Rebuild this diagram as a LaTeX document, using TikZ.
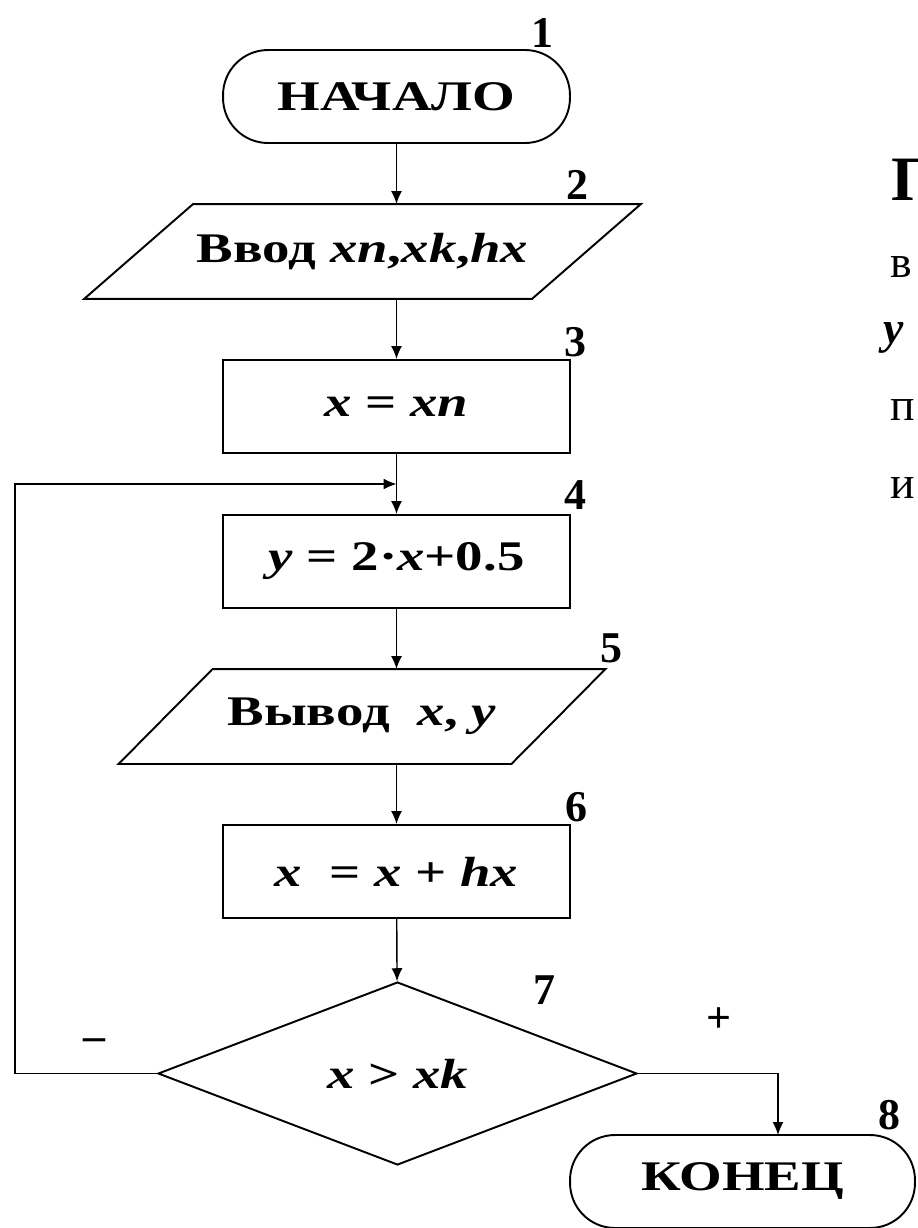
\documentclass[tikz,border=0pt]{standalone}
\usepackage{fontspec}
\setmainfont{Liberation Serif}
\newfontfamily\chartfont[FakeStretch=1.3]{Liberation Serif}
\usetikzlibrary{shapes.geometric,arrows.meta}

\newcommand{\vx}[1]{\textbf{\textit{#1}}}

\begin{document}
\begin{tikzpicture}[x=0.02cm, y=-0.02cm, line width=1.1pt,
  term/.style={draw, rectangle, rounded corners=0.9cm, minimum width=6.94cm, minimum height=1.86cm, font=\chartfont\fontsize{24}{28}\selectfont\bfseries},
  proc/.style={draw, rectangle, minimum width=6.94cm, minimum height=1.86cm, font=\chartfont\fontsize{24}{28}\selectfont\bfseries},
  io/.style={rectangle, inner sep=0pt, minimum height=1.86cm, font=\chartfont\fontsize{24}{28}\selectfont\bfseries},
  cond/.style={draw, diamond, inner sep=0pt, minimum width=9.58cm, minimum height=3.66cm, font=\chartfont\fontsize{24}{28}\selectfont\bfseries},
  num/.style={font=\fontsize{25}{28}\selectfont\bfseries},
  side/.style={anchor=base west, inner sep=0pt, font=\fontsize{26}{30}\selectfont},
  arr/.style={-{Latex[length=2.6mm,width=2.2mm]}, line width=0.8pt}
]
  \useasboundingbox (0,0) rectangle (917,1228);

  % blocks
  \node[term] (start) at (396.5,96.5) {НАЧАЛО};
  \node[io, minimum width=8.92cm] (input) at (362.5,251.5) {Ввод \vx{xn},\vx{xk},\vx{hx}};
  \draw ([xshift=1.09cm]input.north west) -- ([xshift=1.09cm]input.north east)
     -- ([xshift=-1.09cm]input.south east) -- ([xshift=-1.09cm]input.south west) -- cycle;
  \node[proc] (init) at (396.5,406.5) {\vx{x} = \vx{xn}};
  \node[proc] (calc) at (396.5,561.5) {\vx{y} = 2·\vx{x}+0.5};
  \node[io, minimum width=7.82cm] (output) at (362,716.5) {Вывод \ \vx{x}, \vx{y}};
  \draw ([xshift=0.94cm]output.north west) -- ([xshift=0.94cm]output.north east)
     -- ([xshift=-0.94cm]output.south east) -- ([xshift=-0.94cm]output.south west) -- cycle;
  \node[proc] (incr) at (396.5,871.5) {\vx{x} \ = \vx{x} + \vx{hx}};
  \node[cond] (check) at (397.5,1073.5) {\vx{x} > \vx{xk}};
  \node[term, minimum width=6.9cm] (finish) at (742.5,1181.5) {КОНЕЦ};

  % numbers
  \node[num] (n1) at (542,33) {1};
  \node[num] (n2) at (577,185) {2};
  \node[num] (n3) at (575,342) {3};
  \node[num] (n4) at (575,495) {4};
  \node[num] (n5) at (611,648) {5};
  \node[num] (n6) at (576,807) {6};
  \node[num] (n7) at (544,990) {7};
  \node[num] (n8) at (889,1115) {8};
  \node[num] (yeslbl) at (719,1020) {+};
  \node[num] (nolbl) at (94,1045) {–};

  % connectors
  \coordinate (merge) at (396.5,484);
  \coordinate (back) at (15,484);
  \coordinate (yes) at (778,1135);
  \draw[arr] (start) -- (start |- input.north);
  \draw[arr] (start |- input.south) -- (init);
  \draw[arr] (init) -- (calc);
  \draw[arr] (calc) -- (calc |- output.north);
  \draw[arr] (calc |- output.south) -- (incr);
  \draw[arr] (incr) -- (check);
  \draw[arr] (check.west) -| (back) -- (merge);
  \draw[arr] (check.east) -| (yes);

  % text cut at the right edge
  \node[side, font=\fontsize{36}{40}\selectfont\bfseries] (t1) at (891,200) {П};
  \node[side] (t2) at (890,277) {в};
  \node[side] (t3) at (883,343) {\vx{y}};
  \node[side] (t4) at (890,420) {п};
  \node[side] (t5) at (890,498) {и};
\end{tikzpicture}
\end{document}
